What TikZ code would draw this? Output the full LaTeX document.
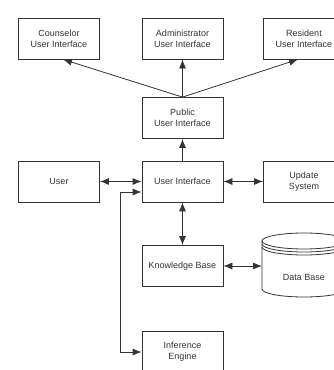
\documentclass[tikz,border=0pt]{standalone}
\usepackage{fontspec}
\setmainfont{Liberation Sans}
\usetikzlibrary{arrows.meta}
\tikzset{>={Latex[length=9pt,width=7pt]}}
\definecolor{linegray}{HTML}{333333}

\begin{document}
\begin{tikzpicture}[x=1pt, y=-1pt, line width=.8pt, draw=linegray,
    box/.style={draw, minimum width=81pt, minimum height=41pt, inner sep=0pt,
      align=center, text=linegray, font=\fontsize{9}{11}\selectfont}]
  \path[use as bounding box, clip] (0,0) rectangle (334,370);
      \node[box] (cou) at (59,38.5) {Counselor\\User Interface};
      \node[box] (adm) at (182.5,38.5) {Administrator\\User Interface};
      \node[box] (res) at (304,38.5) {Resident\\User Interface};
      \node[box] (pub) at (182.5,118) {Public\\User Interface};
      \node[box] (usr) at (59,181.5) {User};
      \node[box] (ui) at (182.5,181.5) {User Interface};
      \node[box] (upd) at (304,181.5) {Update\\System};
      \node[box] (kb) at (182.5,266) {Knowledge Base};
      \node[box] (ie) at (182.5,352) {Inference\\Engine};
  % data base drum
  \draw (262,241) -- (262,289) arc[start angle=180, end angle=0, x radius=42, y radius=8]
        -- (346,241);
  \draw (304,241) ellipse[x radius=42, y radius=8];
  \draw (262,244) arc[start angle=180, end angle=0, x radius=42, y radius=8];
  \draw (262,247) arc[start angle=180, end angle=0, x radius=42, y radius=8];
  \coordinate (db) at (262,266);
  \node[text=linegray, font=\fontsize{9}{11}\selectfont] (dbl) at (304,277) {Data Base};
  \draw[->](pub.north)--([xshift=4pt]cou.south);
  \draw[->](pub.north)--(adm.south);
  \draw[->](pub.north)--([xshift=-6pt]res.south);
  \draw[->](ui)--(pub);
  \draw[<->](usr)--(ui);
  \draw[<->](ui)--(upd);
  \draw[<->](ui)--(kb);
  \draw[<->](kb.east)--(db);
  \draw[<->]([yshift=-10.5pt]ui.west)--++(-21.5,0)|-(ie.west);
\end{tikzpicture}
\end{document}
